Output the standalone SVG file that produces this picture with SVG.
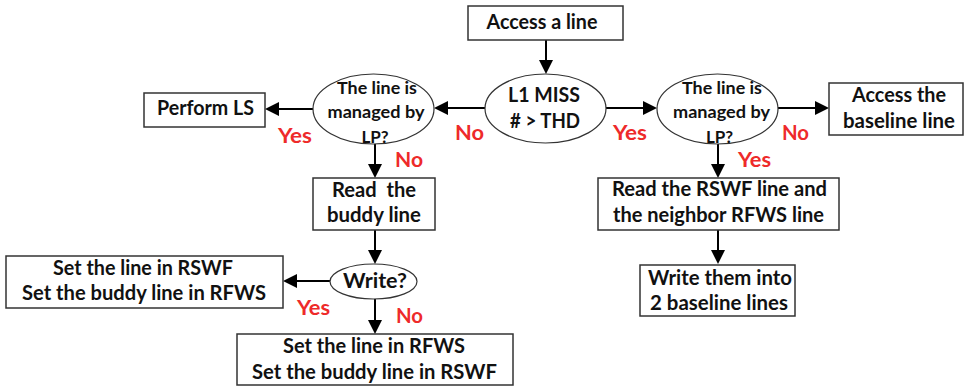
<svg xmlns="http://www.w3.org/2000/svg" width="965" height="387" viewBox="0 0 965 387">
  <defs>
    <marker id="arrow" viewBox="0 0 10 10" markerWidth="14" markerHeight="14" refX="5.7" refY="5" orient="auto" markerUnits="userSpaceOnUse">
      <path d="M0,0 L10,5 L0,10 z" fill="#000"/>
    </marker>
    <style>
      .box { fill: #fff; stroke: #333; stroke-width: 1.5; }
      .oval { fill: #fff; stroke: #333; stroke-width: 1.2; }
      .t { font-family: Lato, "Open Sans", "Liberation Sans", sans-serif; font-weight: bold; font-size: 20px; fill: #111; text-anchor: middle; }
      .s { font-size: 17px; }
      .lbl { font-family: Lato, "Open Sans", "Liberation Sans", sans-serif; font-weight: bold; font-size: 20px; fill: #ee2a2a; }
      .conn line { stroke: #000; stroke-width: 2; marker-end: url(#arrow); }
    </style>
  </defs>
  <rect width="965" height="387" fill="#fff"/>

  <g class="conn" id="connectors">
    <line x1="546" y1="40" x2="546" y2="68"/>
    <line x1="606" y1="108" x2="651" y2="108"/>
    <line x1="778" y1="108" x2="823" y2="108"/>
    <line x1="718" y1="144" x2="718" y2="172"/>
    <line x1="718" y1="230" x2="718" y2="258"/>
    <line x1="485" y1="108" x2="440" y2="108"/>
    <line x1="313" y1="109" x2="271" y2="109"/>
    <line x1="375" y1="144" x2="375" y2="172"/>
    <line x1="375" y1="230" x2="375" y2="258"/>
    <line x1="330" y1="281" x2="289" y2="281"/>
    <line x1="375" y1="299" x2="375" y2="328"/>
  </g>

  <g id="access-line">
    <rect class="box" x="468" y="6" width="155" height="34"/>
    <text class="t" x="542" y="29" textLength="111" lengthAdjust="spacingAndGlyphs">Access a line</text>
  </g>

  <g id="l1-miss">
    <ellipse class="oval" cx="545.5" cy="108.5" rx="60.5" ry="34.5"/>
    <text class="t" x="544" y="102" textLength="72" lengthAdjust="spacingAndGlyphs">L1 MISS</text>
    <text class="t" x="545" y="128" textLength="70" lengthAdjust="spacingAndGlyphs"># &gt; THD</text>
  </g>

  <g id="managed-right">
    <ellipse class="oval" cx="717.5" cy="109" rx="60.5" ry="35"/>
    <text class="t s" x="722" y="94" textLength="80" lengthAdjust="spacingAndGlyphs">The line is</text>
    <text class="t s" x="721.5" y="118" textLength="97" lengthAdjust="spacingAndGlyphs">managed by</text>
    <text class="t s" x="719.5" y="143">LP?</text>
  </g>

  <g id="access-baseline">
    <rect class="box" x="829" y="83" width="134" height="52"/>
    <text class="t" x="899" y="102" textLength="94" lengthAdjust="spacingAndGlyphs">Access the</text>
    <text class="t" x="899" y="128" textLength="112" lengthAdjust="spacingAndGlyphs">baseline line</text>
  </g>

  <g id="read-rswf">
    <rect class="box" x="598" y="178" width="241" height="52"/>
    <text class="t" x="719.5" y="196" textLength="215" lengthAdjust="spacingAndGlyphs">Read the RSWF line and</text>
    <text class="t" x="718.5" y="222" textLength="211" lengthAdjust="spacingAndGlyphs">the neighbor RFWS line</text>
  </g>

  <g id="write-baseline">
    <rect class="box" x="640" y="265" width="155" height="51"/>
    <text class="t" x="720" y="285" textLength="144" lengthAdjust="spacingAndGlyphs">Write them into</text>
    <text class="t" x="719" y="310" textLength="138" lengthAdjust="spacingAndGlyphs">2 baseline lines</text>
  </g>

  <g id="managed-left">
    <ellipse class="oval" cx="373.5" cy="109" rx="60.5" ry="35"/>
    <text class="t s" x="377" y="94" textLength="80" lengthAdjust="spacingAndGlyphs">The line is</text>
    <text class="t s" x="376" y="118" textLength="97" lengthAdjust="spacingAndGlyphs">managed by</text>
    <text class="t s" x="375" y="143">LP?</text>
  </g>

  <g id="perform-ls">
    <rect class="box" x="144" y="93" width="121" height="34"/>
    <text class="t" x="205.5" y="115" textLength="97" lengthAdjust="spacingAndGlyphs">Perform LS</text>
  </g>

  <g id="read-buddy">
    <rect class="box" x="313" y="178" width="122" height="52"/>
    <text class="t" x="374" y="197" textLength="84" lengthAdjust="spacingAndGlyphs" xml:space="preserve">Read  the</text>
    <text class="t" x="374" y="222" textLength="94" lengthAdjust="spacingAndGlyphs">buddy line</text>
  </g>

  <g id="write-check">
    <ellipse class="oval" cx="373.5" cy="281.5" rx="43.5" ry="17.5"/>
    <text class="t" x="375" y="288" textLength="64" lengthAdjust="spacingAndGlyphs">Write?</text>
  </g>

  <g id="set-rswf">
    <rect class="box" x="6" y="256" width="277" height="52"/>
    <text class="t" x="143" y="275" textLength="180" lengthAdjust="spacingAndGlyphs">Set the line in RSWF</text>
    <text class="t" x="144" y="300" textLength="244" lengthAdjust="spacingAndGlyphs">Set the buddy line in RFWS</text>
  </g>

  <g id="set-rfws">
    <rect class="box" x="237" y="334" width="276" height="51"/>
    <text class="t" x="374" y="353" textLength="182" lengthAdjust="spacingAndGlyphs">Set the line in RFWS</text>
    <text class="t" x="374.5" y="379" textLength="245" lengthAdjust="spacingAndGlyphs">Set the buddy line in RSWF</text>
  </g>

  <g id="labels">
    <text class="lbl" x="455" y="140" textLength="29" lengthAdjust="spacingAndGlyphs">No</text>
    <text class="lbl" x="278" y="143" textLength="34" lengthAdjust="spacingAndGlyphs">Yes</text>
    <text class="lbl" x="395" y="167" textLength="28" lengthAdjust="spacingAndGlyphs">No</text>
    <text class="lbl" x="613" y="140" textLength="34" lengthAdjust="spacingAndGlyphs">Yes</text>
    <text class="lbl" x="782" y="140" textLength="27" lengthAdjust="spacingAndGlyphs">No</text>
    <text class="lbl" x="738" y="167" textLength="33" lengthAdjust="spacingAndGlyphs">Yes</text>
    <text class="lbl" x="297" y="315" textLength="33" lengthAdjust="spacingAndGlyphs">Yes</text>
    <text class="lbl" x="396" y="323" textLength="27" lengthAdjust="spacingAndGlyphs">No</text>
  </g>
</svg>
